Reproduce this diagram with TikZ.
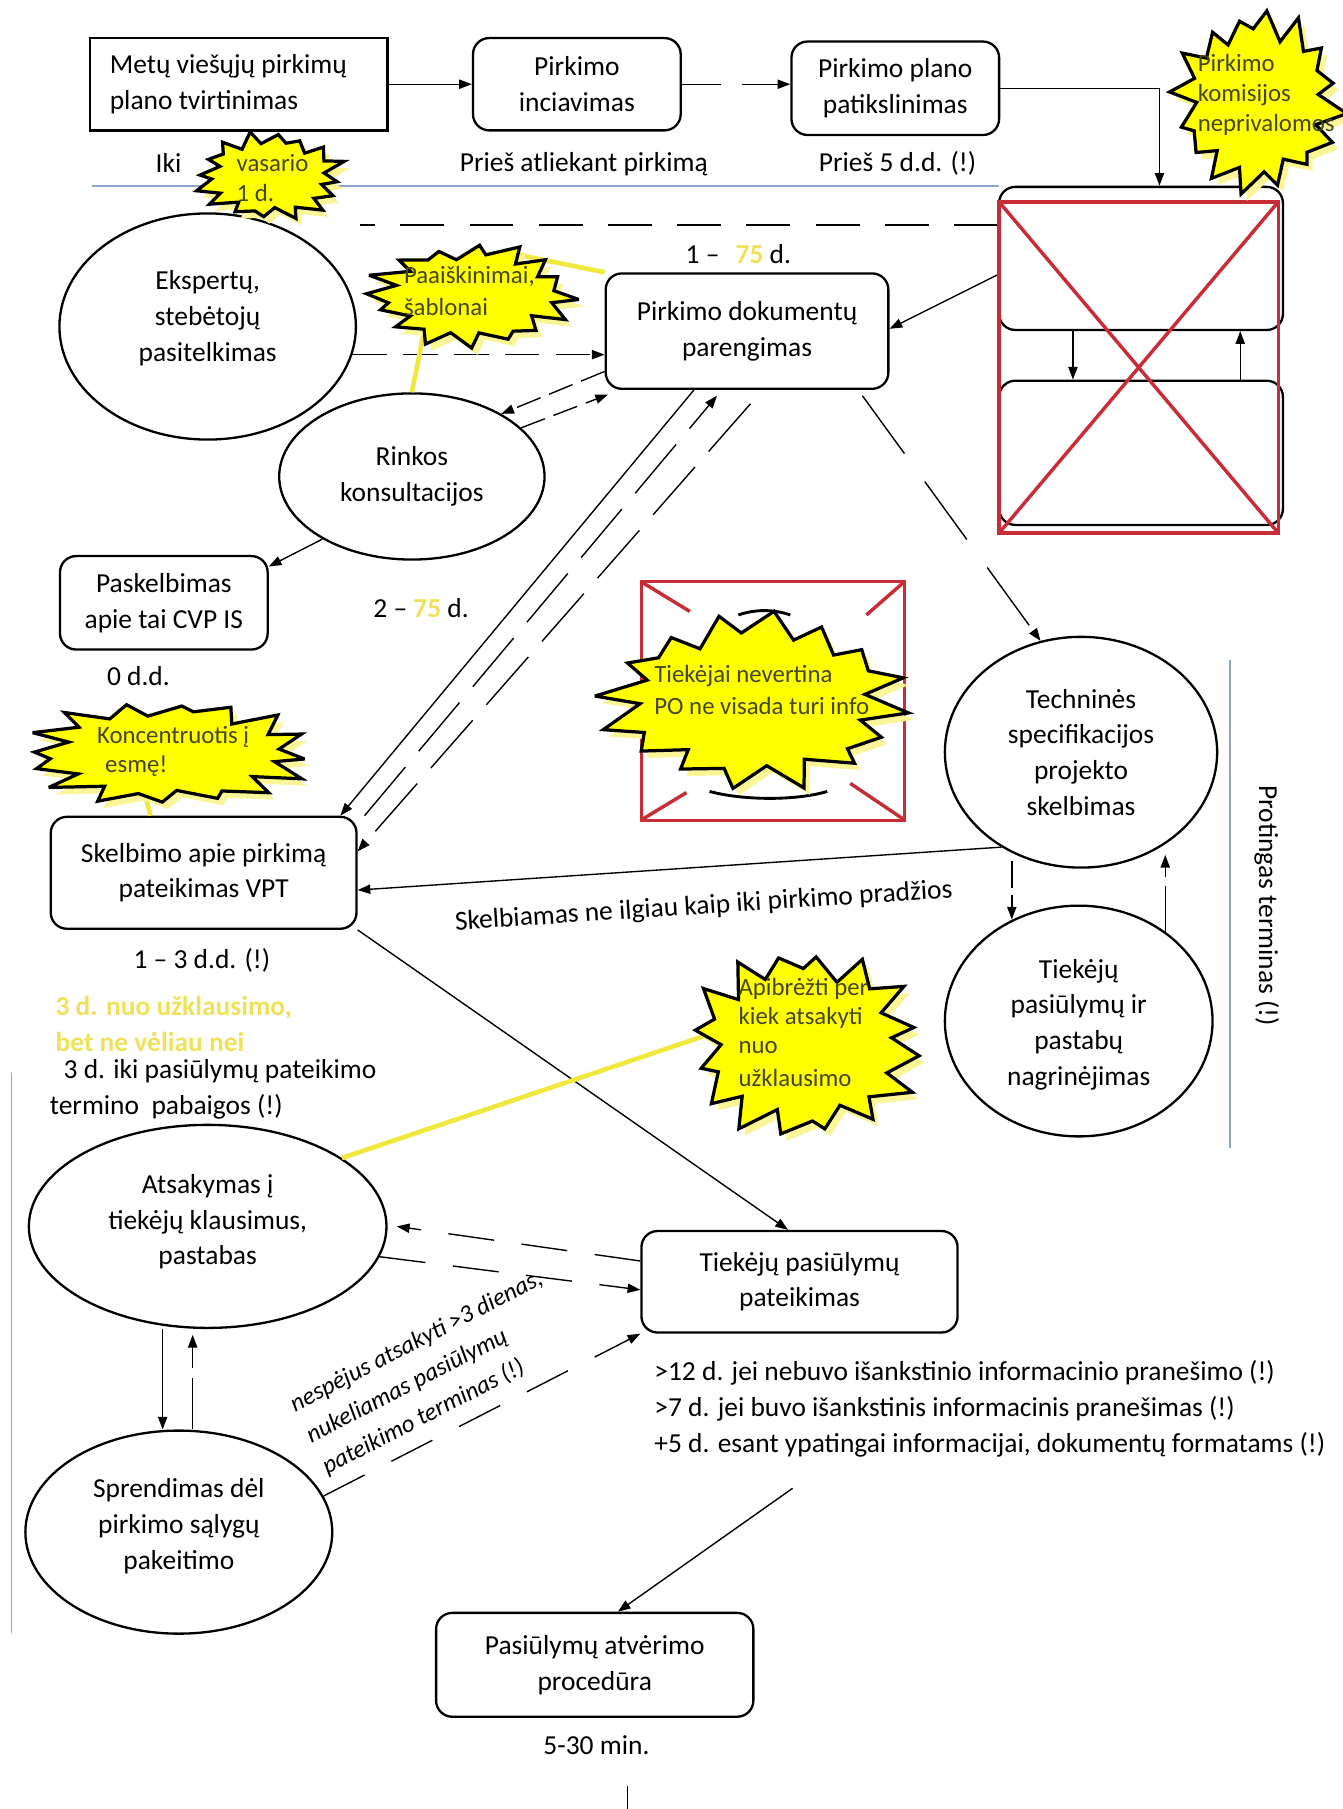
\documentclass[tikz,border=0pt]{standalone}
\usepackage{fontspec}
\setmainfont{Carlito}
\usetikzlibrary{shapes.geometric,arrows.meta}
\definecolor{sepblue}{RGB}{140,165,200}
\definecolor{redx}{RGB}{200,45,55}
\definecolor{startxt}{RGB}{70,70,30}
\definecolor{ylw}{RGB}{255,255,0}
\definecolor{glowc}{RGB}{250,245,150}
\definecolor{ytext}{RGB}{238,226,90}
\definecolor{ylinec}{RGB}{240,232,60}
\tikzset{
  box/.style={draw, line width=2pt, rounded corners=14pt, inner sep=0pt, align=center},
  sbox/.style={draw, line width=2pt, inner sep=0pt},
  ell/.style={draw, ellipse, line width=2pt, inner sep=0pt, align=center},
  txt/.style={inner sep=0pt, align=center},
  conn/.style={line width=1.2pt, -{Triangle[length=11pt,width=8pt]}},
  dconn/.style={conn, dash pattern=on 30pt off 16pt},
  dline/.style={line width=1.2pt, dash pattern=on 38pt off 22pt},
  yln/.style={draw=ylinec, line width=4pt},
  stxt/.style={text=startxt, inner sep=0pt, anchor=west, font=\fontsize{21.5}{26}\selectfont},
  bluel/.style={draw=sepblue, line width=1.5pt},
  redl/.style={draw=redx, line width=3pt},
}
\newcommand{\drawburst}[5]{%
  \fill[glowc] plot[samples at={0,...,31}, variable=\k]
    ({#1+5+starr(\k,#5)*#3*cos(stara(\k,#5))},{#2+6+starr(\k,#5)*#4*sin(stara(\k,#5))}) -- cycle;
  \filldraw[fill=ylw, draw=black, line width=2.8pt, miter limit=4] plot[samples at={0,...,31}, variable=\k]
    ({#1+starr(\k,#5)*#3*cos(stara(\k,#5))},{#2+starr(\k,#5)*#4*sin(stara(\k,#5))}) -- cycle;
}
\begin{document}
\begin{tikzpicture}[x=1pt,y=-1pt, every node/.append style={font=\fontsize{23.8}{31}\selectfont},
  declare function={
    starr(\k,\s)=(mod(\k,2)<0.5) ? (0.93+0.07*sin(\k*137.5+\s*41)) : (0.72+0.05*sin(\k*71.3+\s*23));
    stara(\k,\s)=\k*11.25+\s*0.7+3*sin(\k*211+\s*17);
  }]
\fill[white, use as bounding box] (0,0) rectangle (1164,1568);

% separators
\draw[bluel] (80,161) -- (866,161);
\draw[bluel] (1066,572) -- (1066,995);
\draw[bluel] (10,930) -- (10,1415);

% top row
\node[sbox, minimum width=258pt, minimum height=80pt] (b1) at (207,73) {};
\node[txt, anchor=west, align=left] (b1t) at (95,73) {Metų viešųjų pirkimų\\plano tvirtinimas};
\node[box, minimum width=180pt, minimum height=80pt] (b2) at (500,73) {Pirkimo\\inciavimas};
\node[box, minimum width=180pt, minimum height=81pt] (b3) at (776,76.5) {Pirkimo plano\\patikslinimas};
\node[txt] (iki) at (146,141) {Iki};
\node[txt] (l2) at (506,142) {Prieš atliekant pirkimą};
\node[txt] (l3) at (778,142) {Prieš 5 d.d. (!)};

% crossed group
\node[box, minimum width=246pt, minimum height=124pt] (ct) at (989,224) {};
\node[box, minimum width=246pt, minimum height=125pt] (cb) at (989,392.5) {};

% main nodes
\node[ell, minimum width=257pt, minimum height=196pt] (eksp) at (180,283) {};
\node[txt] (ekspt) at (180,276) {Ekspertų,\\stebėtojų\\pasitelkimas};
\node[box, minimum width=245pt, minimum height=100pt] (pd) at (647.5,287) {Pirkimo dokumentų\\parengimas};
\node[ell, minimum width=230pt, minimum height=144pt] (rink) at (357,413) {Rinkos\\konsultacijos};
\node[box, minimum width=180pt, minimum height=81pt] (pask) at (142,522.5) {Paskelbimas\\apie tai CVP IS};
\node[txt] (l75a) at (640,220) {1 –\hspace{14pt}{\color{ytext}\bfseries 75} d.};
\node[txt] (l75b) at (365,527) {2 – {\color{ytext}\bfseries 75} d.};
\node[txt] (l0) at (120,586) {0 d.d.};
\node[box, minimum width=265pt, minimum height=97pt] (skel) at (176.5,756.5) {Skelbimo apie pirkimą\\pateikimas VPT};
\node[ell, minimum width=236pt, minimum height=200pt] (tech) at (937,652) {Techninės\\specifikacijos\\projekto\\skelbimas};
\node[ell, minimum width=232pt, minimum height=200pt] (tnag) at (935,885) {};
\node[txt] (tnagt) at (935,888) {Tiekėjų\\pasiūlymų ir\\pastabų\\nagrinėjimas};
\node[txt] (l13) at (175,832) {1 – 3 d.d. (!)};
\node[txt, anchor=west, align=left, text=ytext, font=\fontsize{23.8}{31}\selectfont\bfseries] (yt) at (48,887.5) {3 d. nuo užklausimo,\\bet ne vėliau nei};
\node[txt, anchor=west, align=left] (l3d) at (43,944.5) {\hspace{12pt}3 d. iki pasiūlymų pateikimo\\termino\ \ pabaigos (!)};
\node[ell, minimum width=310pt, minimum height=176pt] (ats) at (180,1063) {};
\node[txt] (atst) at (180,1059) {Atsakymas į\\tiekėjų klausimus,\\pastabas};
\node[box, minimum width=274pt, minimum height=88pt] (tp) at (693,1111) {Tiekėjų pasiūlymų\\pateikimas};
\node[ell, minimum width=266pt, minimum height=176pt] (spr) at (155,1328) {};
\node[txt] (sprt) at (155,1323) {Sprendimas dėl\\pirkimo sąlygų\\pakeitimo};
\node[box, minimum width=275pt, minimum height=90pt] (pa) at (515.5,1443) {Pasiūlymų atvėrimo\\procedūra};
\node[txt] (l530) at (517,1513) {5-30 min.};
\node[txt, anchor=west, align=left] (nblk) at (567,1221) {>12 d. jei nebuvo išankstinio informacinio pranešimo (!)\\>7 d. jei buvo išankstinis informacinis pranešimas (!)\\+5 d. esant ypatingai informacijai, dokumentų formatams (!)};
\node[txt, rotate=3.7] (lsk) at (610,786) {Skelbiamas ne ilgiau kaip iki pirkimo pradžios};
\node[txt, rotate=-90] (lprot) at (1098,785) {Protingas terminas (!)};
\node[txt, rotate=27.3, anchor=west, align=left, font=\fontsize{21.5}{30.4}\selectfont\itshape] (ns) at (267,1246) {nespėjus atsakyti >3 dienas,\\nukeliamas pasiūlymų\\pateikimo terminas (!)};

% connectors
\draw[conn] (b1) -- (b2);
\draw[dconn, dash pattern=on 34pt off 18pt] (b2.east) -- (b2.east -| b3.west);
\draw[conn] (b3.east) -| ([xshift=16pt]ct.north);
\draw[conn] ([xshift=-59pt]ct.south) -- ([xshift=-59pt]cb.north);
\draw[conn] ([xshift=86pt]cb.north) -- ([xshift=86pt]ct.south);
\coordinate (dlend) at (312,195);
\draw[dline] (ct.west |- dlend) -- (dlend);
\draw[conn] ([yshift=-14pt]ct.west) -- ([yshift=2pt]pd.east);
\draw[dconn, dash pattern=on 30pt off 14pt] (eksp.-11) -- (eksp.-11 -| pd.west);
\draw[dconn, dash pattern=on 22pt off 8pt] ([yshift=-35pt]pd.west) -- (rink.35);
\draw[dconn, dash pattern=on 22pt off 8pt] (rink.24) -- ([xshift=3pt,yshift=-4pt]pd.south west);
\draw[conn] (rink.215) -- ([yshift=-10pt]pask.north east);
\draw[conn] ([xshift=-46pt]pd.south) -- ([xshift=-15pt]skel.north east);
\draw[dconn, dash pattern=on 55pt off 18pt] ([xshift=6pt]skel.north east) -- ([xshift=-26pt,yshift=-5pt]pd.south);
\draw[dconn, dash pattern=on 55pt off 18pt] ([xshift=3pt,yshift=-12pt]pd.south) -- ([yshift=-31pt]skel.north east);
\draw[dconn, dash pattern=on 62pt off 30pt] ([xshift=100pt,yshift=-5pt]pd.south) -- (tech.110);
\draw[conn] (tech.230) -- ([yshift=-15pt]skel.east);
\draw[dconn, dash pattern=on 24pt off 6pt] ([xshift=-60pt,yshift=7pt]tech.south) -- ([xshift=-58pt,yshift=-13pt]tnag.north);
\draw[dconn, dash pattern=on 40pt off 8pt] ([xshift=75pt,yshift=-24pt]tnag.north) -- ([xshift=73pt,yshift=12pt]tech.south);
\draw[conn] (skel.south east) -- ([xshift=-10pt]tp.north);
\draw[dconn, dash pattern=on 40pt off 24pt] ([yshift=18pt]tp.west) -- ([xshift=8pt]ats.east);
\draw[dconn, dash pattern=on 40pt off 24pt] (ats.-10) -- ([yshift=-7pt]tp.west);
\draw[conn] ([xshift=-39pt]ats.south) -- ([xshift=-14pt]spr.north);
\draw[dconn, dash pattern=on 45pt off 8pt] ([xshift=12pt]spr.north) -- ([xshift=-13pt,yshift=-5pt]ats.south);
\draw[dconn, dash pattern=on 40pt off 26pt] (spr.14) -- (tp.south west);
\coordinate (paf) at (687,1290);
\draw[conn] (paf) -- ([xshift=20pt]pa.north);
\coordinate (pb1) at (544,1548);
\coordinate (pb2) at (544,1568);
\draw[line width=1.2pt] (pb1) -- (pb2);

% red crosses
\draw[redl] (866,175) rectangle (1108,462);
\draw[redl] (866,175) -- (1108,462) (1108,175) -- (866,462);
\draw[redl] (556,504) rectangle (784,711);
\draw[redl] (557,505) -- (598,530) (783,505) -- (751,533) (557,710) -- (595,687) (783,710) -- (737,679);
\draw[line width=2.5pt] (640,533) .. controls (655,528) and (670,528) .. (685,533);
\draw[line width=2.5pt] (615,686) .. controls (645,694) and (690,694) .. (717,686);

% yellow callout lines
\draw[yln] (pd.north west) -- (440,219);
\draw[yln] (rink.north) -- (368,285);
\draw[yln] ([xshift=-46pt]skel.north) -- (122,675);
\coordinate (ysx) at (640,888);
\draw[yln] (ats.27) -- (ysx);

% starbursts
\drawburst{234}{153}{68}{40}{7}
\node[stxt] (s1a) at (205,141) {vasario};
\node[stxt] (s1b) at (205,167) {1 d.};

\drawburst{1090}{88}{78}{82}{11}
\node[stxt] (s2a) at (1038,55) {Pirkimo};
\node[stxt] (s2b) at (1038,82) {komisijos};
\node[stxt] (s2c) at (1038,108) {neprivalomos};

\drawburst{408}{256}{95}{47}{3}
\node[stxt] (s3a) at (350,240) {Paaiškinimai,};
\node[stxt] (s3b) at (350,266) {šablonai};

\drawburst{145}{653}{133}{48}{5}
\node[stxt] (s4a) at (84,639) {Koncentruotis į};
\node[stxt] (s4b) at (91,664) {esmę!};

\drawburst{655}{608}{142}{79}{9}
\node[stxt] (s5a) at (567,586) {Tiekėjai nevertina};
\node[stxt] (s5b) at (567,612) {PO ne visada turi info};

\drawburst{697}{905}{107}{87}{13}
\node[stxt] (s6a) at (640,857) {Apibrėžti per};
\node[stxt] (s6b) at (640,882) {kiek atsakyti};
\node[stxt] (s6c) at (640,908) {nuo};
\node[stxt] (s6d) at (640,934) {užklausimo};
\end{tikzpicture}
\end{document}
